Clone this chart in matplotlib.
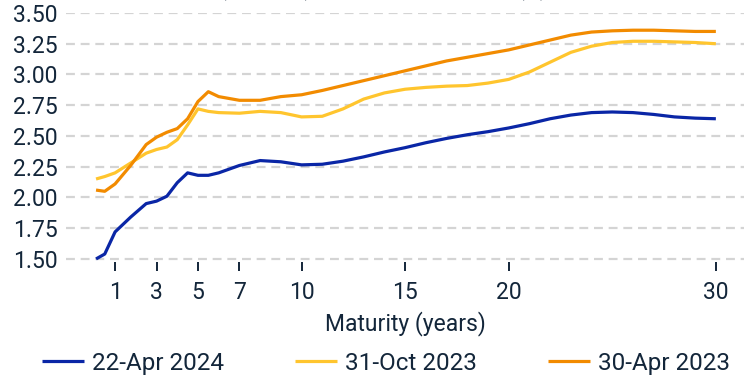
import matplotlib
matplotlib.use("Agg")
import matplotlib.pyplot as plt
from matplotlib.ticker import FormatStrFormatter

plt.rcParams['font.family'] = ['Roboto', 'DejaVu Sans']

# maturities in years
maturity = [0.08, 0.5, 1, 1.75, 2.5, 3, 3.5, 4, 4.5, 5, 5.5, 6, 7, 8, 9, 10,
            11, 12, 13, 14, 15, 16, 17, 18, 19, 20, 21, 22, 23, 24, 25, 26,
            27, 28, 29, 30]

yld_apr24 = [1.50, 1.54, 1.72, 1.84, 1.95, 1.97, 2.01, 2.12, 2.20, 2.18, 2.18,
             2.20, 2.26, 2.30, 2.29, 2.265, 2.27, 2.295, 2.33, 2.37, 2.405,
             2.445, 2.48, 2.51, 2.535, 2.565, 2.60, 2.64, 2.67, 2.69, 2.695,
             2.69, 2.675, 2.655, 2.645, 2.64]
yld_oct23 = [2.15, 2.17, 2.20, 2.28, 2.36, 2.39, 2.41, 2.47, 2.59, 2.72, 2.70,
             2.69, 2.685, 2.70, 2.69, 2.655, 2.66, 2.72, 2.80, 2.85, 2.88,
             2.895, 2.905, 2.91, 2.93, 2.96, 3.02, 3.10, 3.18, 3.23, 3.26,
             3.27, 3.27, 3.265, 3.26, 3.25]
yld_apr23 = [2.06, 2.05, 2.11, 2.26, 2.43, 2.49, 2.53, 2.56, 2.64, 2.78, 2.86,
             2.82, 2.79, 2.79, 2.82, 2.835, 2.87, 2.91, 2.95, 2.99, 3.03,
             3.07, 3.11, 3.14, 3.17, 3.20, 3.24, 3.28, 3.32, 3.345, 3.355,
             3.36, 3.36, 3.355, 3.35, 3.35]

labels = ['22-Apr 2024', '31-Oct 2023', '30-Apr 2023']
colors = ['#0a26a6', '#ffc52e', '#f28b00']
xticks = [1, 3, 5, 7, 10, 15, 20, 30]
yticks = [1.50, 1.75, 2.00, 2.25, 2.50, 2.75, 3.00, 3.25, 3.50]

txt = '#13263a'

fig = plt.figure(figsize=(7.45, 3.81), dpi=100)
ax = fig.add_axes([0.0886, 0.3123, 0.9101, 0.6536])

for ys, lab, c in zip([yld_apr24, yld_oct23, yld_apr23], labels, colors):
    ax.plot(maturity, ys, color=c, lw=2.3, label=lab, solid_capstyle='butt')

ax.set_xlim(-1.37, 31.36)
ax.set_ylim(1.475, 3.5)
ax.set_xticks(xticks)
ax.set_yticks(yticks)
ax.yaxis.set_major_formatter(FormatStrFormatter('%.2f'))
ax.yaxis.grid(True, color='#d4d4d4', lw=1.6, ls=(0, (4, 2.6)))
ax.set_axisbelow(True)
for s in ax.spines.values():
    s.set_visible(False)

ax.tick_params(axis='y', length=0, pad=6, labelsize=16.5, labelcolor=txt)
ax.tick_params(axis='x', length=6.5, width=1.4, color=txt, pad=7,
               labelsize=16.5, labelcolor=txt)
ax.set_xlabel('Maturity (years)', fontsize=16.5, color=txt, labelpad=5)

fig.legend(loc='center', bbox_to_anchor=(0.518, 0.047), ncol=3, frameon=False,
           fontsize=17.5, handlelength=1.75, handletextpad=0.33,
           columnspacing=2.9, labelcolor=txt)

# chart title, sits mostly above the canvas
fig.text(0.003, 1 + 4 / 381, 'Yield curve: Swiss govt (SIX data) bonds on three dates (%)',
         fontsize=15, color=txt, va='baseline', ha='left')

fig.savefig('out.png', dpi=100)
